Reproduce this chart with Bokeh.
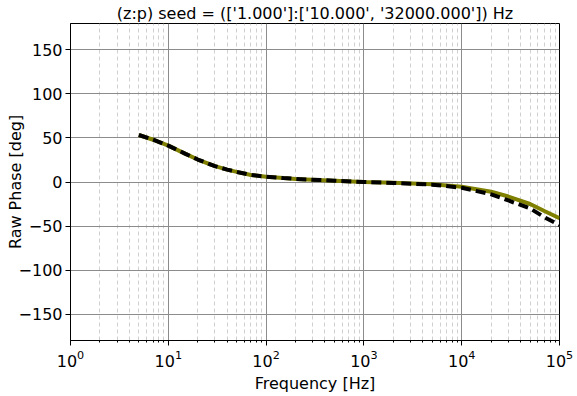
from bokeh.plotting import figure
from bokeh.models import FixedTicker, ColumnDataSource
from bokeh.embed import file_html
from bokeh.resources import INLINE

# data
freq_hz = [5, 7, 10, 15, 20, 30, 40, 50, 70, 100, 150, 200, 500, 1000,
           2000, 5000, 10000, 20000, 30000, 50000, 70000, 100000]
phase_ref = [53.4, 48, 41.3, 32, 25.5, 18, 14, 11.5, 8, 6, 4.5, 3.5, 1.5, 0,
             -0.8, -2.5, -5.5, -11, -16.5, -25, -33, -41]
phase_fit = [53.4, 48, 41.3, 32, 25.5, 18, 14, 11.5, 8, 6, 4.5, 3.5, 1.5, 0,
             -1, -3, -6.5, -14, -21, -30, -40, -49]

x_major = [1, 10, 100, 1000, 10000, 100000]
y_major = [-150, -100, -50, 0, 50, 100, 150]
y_labels = {v: (str(v).replace("-", "\u2212")) for v in y_major}

src = ColumnDataSource(dict(f=freq_hz, a=phase_ref, b=phase_fit))

FONT = "DejaVu Sans"

p = figure(width=577, height=396, x_axis_type="log",
           x_range=(1, 1e5), y_range=(-180, 180),
           output_backend="svg", toolbar_location=None,
           title="(z:p) seed = (['1.000']:['10.000', '32000.000']) Hz",
           min_border_left=70, min_border_right=18,
           min_border_top=23, min_border_bottom=56)

p.title.align = "center"
p.title.text_font = FONT
p.title.text_font_size = "16px"
p.title.text_font_style = "normal"
p.title.text_color = "black"
p.title.standoff = 2

p.outline_line_color = "black"
p.outline_line_width = 1
p.outline_line_alpha = 1

minor = [m * d for d in [1, 10, 100, 1000, 10000] for m in range(2, 10)]
p.xaxis.ticker = FixedTicker(ticks=x_major, minor_ticks=minor)
p.yaxis.ticker = FixedTicker(ticks=y_major)
p.yaxis.major_label_overrides = y_labels

for ax in (p.xaxis[0], p.yaxis[0]):
    ax.axis_line_color = "black"
    ax.major_tick_line_color = "black"
    ax.major_tick_in = 0
    ax.major_tick_out = 5
    ax.minor_tick_in = 0
    ax.minor_tick_out = 2
    ax.major_label_text_font = FONT
    ax.major_label_text_font_size = "16px"
    ax.major_label_text_color = "black"
    ax.axis_label_text_font = FONT
    ax.axis_label_text_font_size = "16px"
    ax.axis_label_text_font_style = "normal"
    ax.axis_label_text_color = "black"

p.yaxis.minor_tick_line_color = None
p.xaxis.minor_tick_line_color = "black"
p.xaxis.axis_label = "Frequency [Hz]"
p.yaxis.axis_label = "Raw Phase [deg]"
p.xaxis.major_label_standoff = 4
p.xaxis.axis_label_standoff = 4
p.yaxis.major_label_standoff = 3
p.yaxis.axis_label_standoff = -9

p.xgrid.grid_line_color = "#8c8c8c"
p.ygrid.grid_line_color = "#8c8c8c"
p.xgrid.minor_grid_line_color = "#d0d0d0"
p.xgrid.minor_grid_line_dash = "4 3"

p.line("f", "a", source=src, line_color="#808000", line_width=4)
p.line("f", "b", source=src, line_color="black", line_width=4,
       line_dash="10 5")

open("out.html", "w").write(file_html(p, INLINE))
